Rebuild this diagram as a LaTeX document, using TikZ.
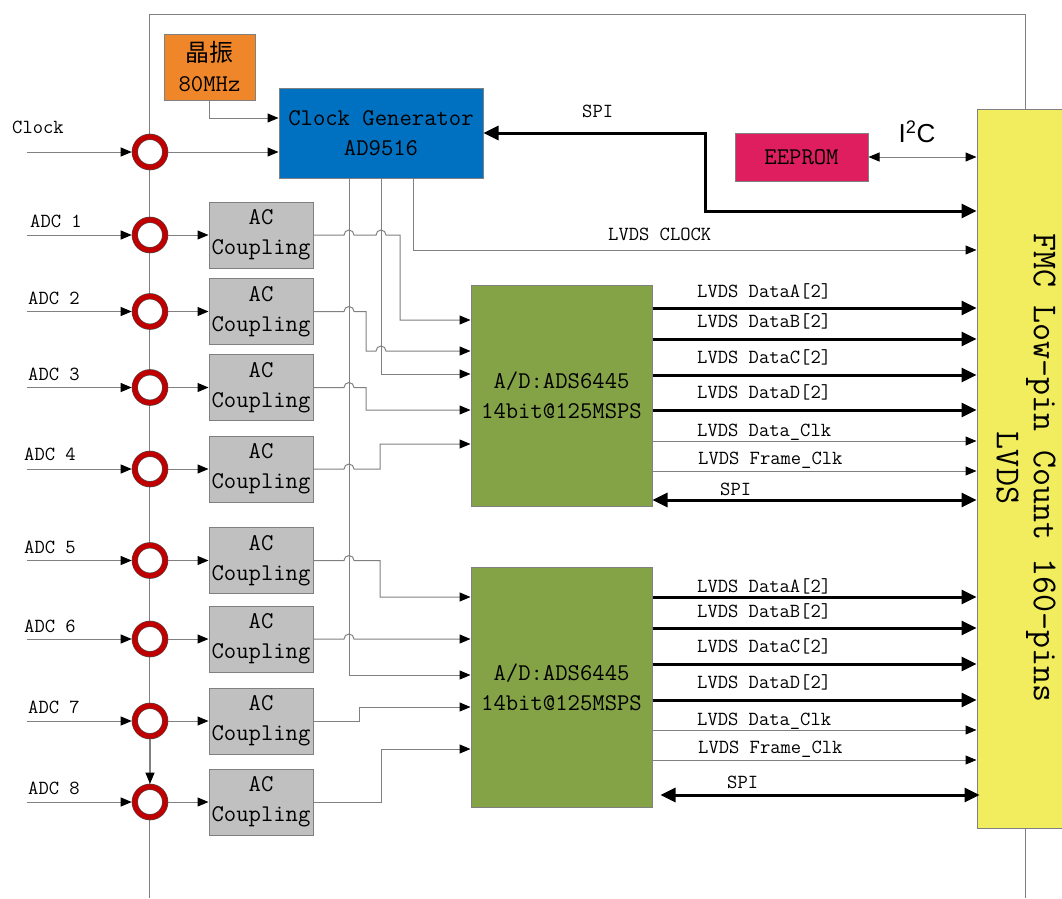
\documentclass[tikz,border=0pt]{standalone}
\usepackage{fontspec}
\newfontfamily\cjkfont{Noto Sans CJK SC}
\newfontfamily\arialfont{Liberation Sans}
\usetikzlibrary{arrows.meta}
\definecolor{xtalorange}{RGB}{240,134,42}
\definecolor{clkblue}{RGB}{0,112,192}
\definecolor{acgray}{RGB}{192,192,192}
\definecolor{adcgreen}{RGB}{132,162,70}
\definecolor{fmcyellow}{RGB}{242,237,94}
\definecolor{eepink}{RGB}{222,30,95}
\definecolor{ringred}{RGB}{192,0,0}
\definecolor{wiregray}{RGB}{128,128,128}

\begin{document}
\begin{tikzpicture}[x=1pt, y=-1pt,
    every node/.style={font=\ttfamily\fontsize{24}{30}\selectfont},
    blk/.style={draw=wiregray, line width=1pt, inner sep=0pt, align=center},
    acbox/.style={blk, fill=acgray, minimum width=104pt, minimum height=66pt},
    adbox/.style={blk, fill=adcgreen, minimum width=181pt},
    ring/.style={circle, draw=wiregray!60!black, line width=0.6pt, double=ringred,
                 double distance=5pt, fill=white, minimum size=30.4pt, inner sep=0pt, outer sep=3.1pt},
    lbl/.style={font=\ttfamily\fontsize{20}{24}\selectfont, inner sep=0pt, anchor=base west},
    sig/.style={draw=wiregray, line width=1pt, -{Triangle[length=11pt, width=9pt, color=black]}},
    sigboth/.style={sig, {Triangle[length=11pt, width=9pt, color=black]}-{Triangle[length=11pt, width=9pt, color=black]}},
    bus/.style={line width=3pt, -{Triangle[length=15pt, width=14pt]}},
    busboth/.style={bus, {Triangle[length=15pt, width=14pt]}-{Triangle[length=15pt, width=14pt]}}]
    \useasboundingbox (0,0) rectangle (1062,898);
    \clip (0,0) rectangle (1062,898);

    % Board outline
    \draw[wiregray, line width=1pt] (149,898) -- (149,14) -- (1025,14) -- (1025,898);

    % Crystal and clock generator
    \node[blk, fill=xtalorange, minimum width=91pt, minimum height=66pt] (xtal) at (209.5,67) {{\cjkfont 晶振}\\80MHz};
    \node[blk, fill=clkblue, minimum width=204pt, minimum height=90pt] (cg) at (381,133) {Clock Generator\\AD9516};

    % EEPROM
    \node[blk, fill=eepink, minimum width=133pt, minimum height=48pt] (ee) at (801.5,157) {EEPROM};

    % FMC connector
    \node[blk, fill=fmcyellow, minimum width=98pt, minimum height=719pt] (fmc) at (1026,468.5) {};
    \node[rotate=-90, align=center, inner sep=0pt, font=\ttfamily\fontsize{35}{37}\selectfont] (fmctxt) at (1026,468) {FMC Low-pin Count 160-pins\\LVDS};

    % A/D converters
    \node[adbox, minimum height=221pt] (ad1) at (561.5,395.5) {A/D:ADS6445\\14bit@125MSPS};
    \node[adbox, minimum height=240pt] (ad2) at (561.5,687) {A/D:ADS6445\\14bit@125MSPS};

    % Input connectors
    \node[ring] (c0) at (150,152) {};
    \node[ring] (c1) at (150,235) {};
    \node[ring] (c2) at (150,311.5) {};
    \node[ring] (c3) at (150,387.5) {};
    \node[ring] (c4) at (150,469) {};
    \node[ring] (c5) at (150,560.5) {};
    \node[ring] (c6) at (150,639) {};
    \node[ring] (c7) at (150,721) {};
    \node[ring] (c8) at (150,802) {};

    % AC coupling
    \node[acbox] (ac1) at (261,235) {AC\\Coupling};
    \node[acbox] (ac2) at (261,311.5) {AC\\Coupling};
    \node[acbox] (ac3) at (261,387.5) {AC\\Coupling};
    \node[acbox] (ac4) at (261,469) {AC\\Coupling};
    \node[acbox] (ac5) at (261,560.5) {AC\\Coupling};
    \node[acbox] (ac6) at (261,639) {AC\\Coupling};
    \node[acbox] (ac7) at (261,721) {AC\\Coupling};
    \node[acbox] (ac8) at (261,802) {AC\\Coupling};

    % Input labels
    \node[lbl] (lclk) at (12,133) {Clock};
    \node[lbl] (l1) at (30,227) {ADC 1};
    \node[lbl] (l2) at (28,304) {ADC 2};
    \node[lbl] (l3) at (28,380) {ADC 3};
    \node[lbl] (l4) at (24,460) {ADC 4};
    \node[lbl] (l5) at (24,553) {ADC 5};
    \node[lbl] (l6) at (24,632) {ADC 6};
    \node[lbl] (l7) at (28,713) {ADC 7};
    \node[lbl] (l8) at (28,794) {ADC 8};

    \coordinate (in0) at (27,152);
    \coordinate (in1) at (27,235);
    \coordinate (in2) at (27,311.5);
    \coordinate (in3) at (27,387.5);
    \coordinate (in4) at (27,469);
    \coordinate (in5) at (27,560.5);
    \coordinate (in6) at (27,639);
    \coordinate (in7) at (27,721);
    \coordinate (in8) at (27,802);

    % Inputs
    \draw[sig] (in0) -- (c0);
    \draw[sig] (in1) -- (c1);
    \draw[sig] (in2) -- (c2);
    \draw[sig] (in3) -- (c3);
    \draw[sig] (in4) -- (c4);
    \draw[sig] (in5) -- (c5);
    \draw[sig] (in6) -- (c6);
    \draw[sig] (in7) -- (c7);
    \draw[sig] (in8) -- (c8);
    \draw[sig] (c7) -- (c8);

    \draw[sig] (c0) -- (c0 -| cg.west);
    \draw[sig] (c1) -- (ac1);
    \draw[sig] (c2) -- (ac2);
    \draw[sig] (c3) -- (ac3);
    \draw[sig] (c4) -- (ac4);
    \draw[sig] (c5) -- (ac5);
    \draw[sig] (c6) -- (ac6);
    \draw[sig] (c7) -- (ac7);
    \draw[sig] (c8) -- (ac8);

    % Clock tree
    \draw[sig] (xtal.south) |- ([yshift=15pt]cg.west);
    \draw[sig] ([xshift=32pt]cg.south) |- (fmc.west |- 0,250);
    \draw[sig] (cg.south) |- (ad1.west |- 0,374);
    \draw[sig] ([xshift=-32pt]cg.south) |- (ad2.west |- 0,675);
    \node[lbl] (lvclk) at (608,240) {LVDS CLOCK};

    % SPI and I2C from FMC
    \draw[busboth] (cg.east) -| (705,211) -- (fmc.west |- 0,211);
    \node[lbl] (lspi0) at (582,117) {SPI};
    \draw[sigboth] (ee) -- (ee -| fmc.west);
    \node[font=\arialfont\fontsize{26}{28}\selectfont] (li2c) at (917,132) {I\textsuperscript{2}C};

    % AC coupling to A/D (with hops)
    \draw[sig] (ac1.east) -- (344,235) arc[start angle=180, end angle=0, radius=5pt]
        -- (376,235) arc[start angle=180, end angle=0, radius=5pt] -- (400,235) |- (ad1.west |- 0,320);
    \draw[sig] (ac2.east) -- (344,311.5) arc[start angle=180, end angle=0, radius=5pt]
        -- (366,311.5) |- (376,351) arc[start angle=180, end angle=0, radius=5pt] -- (ad1.west |- 0,351);
    \draw[sig] (ac3.east) -- (344,387.5) arc[start angle=180, end angle=0, radius=5pt]
        -- (366,387.5) |- (ad1.west |- 0,410);
    \draw[sig] (ac4.east) -- (344,469) arc[start angle=180, end angle=0, radius=5pt]
        -- (380,469) |- (ad1.west |- 0,444);
    \draw[sig] (ac5.east) -- (344,560.5) arc[start angle=180, end angle=0, radius=5pt]
        -- (380,560.5) |- (ad2.west |- 0,597);
    \draw[sig] (ac6.east) -- (344,639) arc[start angle=180, end angle=0, radius=5pt]
        -- (ad2.west |- 0,639);
    \draw[sig] (ac7.east) -| (359,707) -- (ad2.west |- 0,707);
    \draw[sig] (ac8.east) -| (381,749) -- (ad2.west |- 0,749);

    % A/D 1 outputs
    \draw[bus] (ad1.east |- 0,308) -- (fmc.west |- 0,308);
    \draw[bus] (ad1.east |- 0,339) -- (fmc.west |- 0,339);
    \draw[bus] (ad1.east |- 0,375) -- (fmc.west |- 0,375);
    \draw[bus] (ad1.east |- 0,410) -- (fmc.west |- 0,410);
    \draw[sig] (ad1.east |- 0,441) -- (fmc.west |- 0,441);
    \draw[sig] (ad1.east |- 0,471) -- (fmc.west |- 0,471);
    \draw[busboth] (ad1.east |- 0,500) -- (fmc.west |- 0,500);
    \node[lbl] (la1) at (697,297) {LVDS DataA[2]};
    \node[lbl] (lb1) at (697,327) {LVDS DataB[2]};
    \node[lbl] (lc1) at (697,363) {LVDS DataC[2]};
    \node[lbl] (ld1) at (697,398) {LVDS DataD[2]};
    \node[lbl] (ldc1) at (697,436) {LVDS Data\_Clk};
    \node[lbl] (lfc1) at (698,464) {LVDS Frame\_Clk};
    \node[lbl] (ls1) at (720,495) {SPI};

    % A/D 2 outputs
    \draw[bus] (ad2.east |- 0,597) -- (fmc.west |- 0,597);
    \draw[bus] (ad2.east |- 0,628) -- (fmc.west |- 0,628);
    \draw[bus] (ad2.east |- 0,664) -- (fmc.west |- 0,664);
    \draw[bus] (ad2.east |- 0,700) -- (fmc.west |- 0,700);
    \draw[sig] (ad2.east |- 0,730) -- (fmc.west |- 0,730);
    \draw[sig] (ad2.east |- 0,760) -- (fmc.west |- 0,760);
    \draw[busboth, shorten <=8pt, shorten >=-3pt] (ad2.east |- 0,795) -- (fmc.west |- 0,795);
    \node[lbl] (la2) at (697,592) {LVDS DataA[2]};
    \node[lbl] (lb2) at (697,617) {LVDS DataB[2]};
    \node[lbl] (lc2) at (697,652) {LVDS DataC[2]};
    \node[lbl] (ld2) at (697,688) {LVDS DataD[2]};
    \node[lbl] (ldc2) at (697,725) {LVDS Data\_Clk};
    \node[lbl] (lfc2) at (698,753) {LVDS Frame\_Clk};
    \node[lbl] (ls2) at (727,788) {SPI};
\end{tikzpicture}
\end{document}
